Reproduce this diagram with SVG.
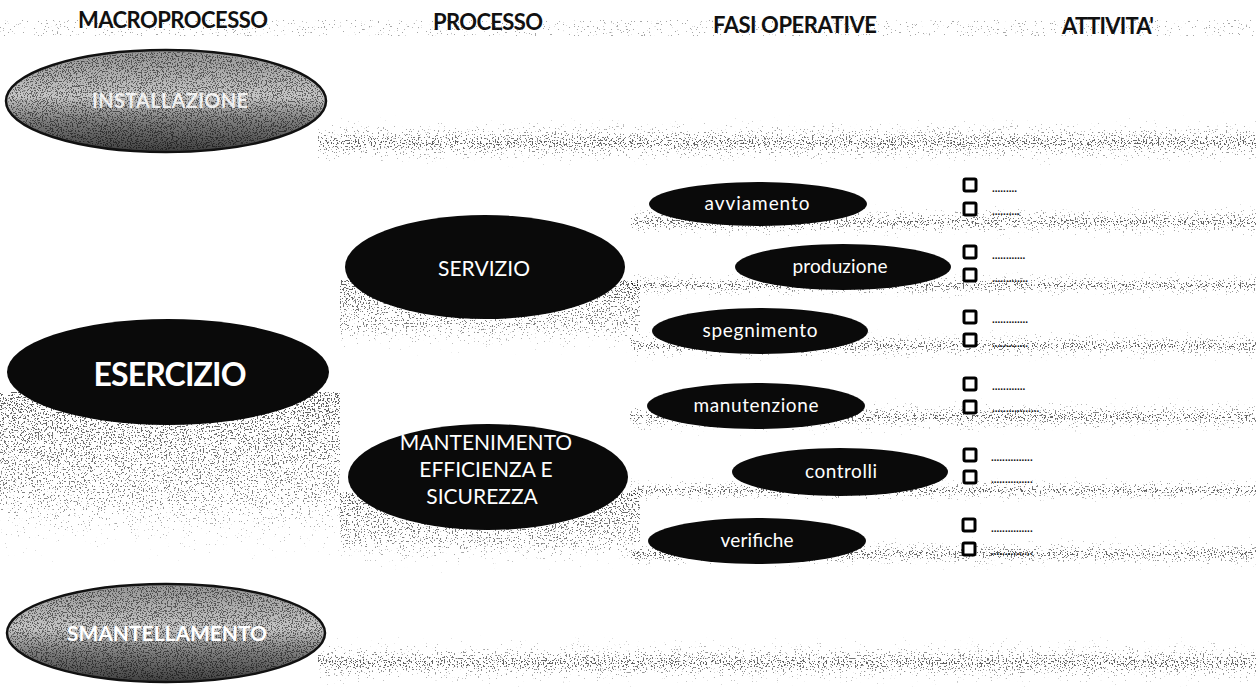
<svg xmlns="http://www.w3.org/2000/svg" width="1256" height="691" viewBox="0 0 1256 691">
<style>
.hdr{font-family:Lato,'Open Sans','Liberation Sans',sans-serif;font-size:22px;font-weight:bold;fill:#111;text-anchor:middle}
.blk{fill:#0a0a0a}
.wt{font-family:Lato,'Open Sans','Liberation Sans',sans-serif;fill:#fff;text-anchor:middle}
.fase{font-size:19px}
.proc{font-size:21px}
.gry{fill:url(#grayG);stroke:#111;stroke-width:2.5}
.cb{fill:#fff;stroke:#000;stroke-width:3}
.dots{font-family:'Liberation Sans',sans-serif;font-size:10px;font-weight:bold;fill:#111}
.band{filter:url(#stip);opacity:0.7}
</style>
<defs>
<filter id="stip" x="0" y="0" width="1" height="1" color-interpolation-filters="sRGB">
<feTurbulence type="fractalNoise" baseFrequency="0.65" numOctaves="2" seed="7" result="n"/>
<feColorMatrix in="n" type="matrix" values="0 0 0 0 0  0 0 0 0 0  0 0 0 0 0  0 0 0 1 0" result="na"/>
<feComposite in="na" in2="SourceAlpha" operator="arithmetic" k1="0" k2="1" k3="0.33" k4="0" result="sum"/>
<feComponentTransfer in="sum" result="th"><feFuncA type="linear" slope="25" intercept="-21.5"/></feComponentTransfer>
<feComposite in="th" in2="SourceAlpha" operator="in"/>
</filter>
<filter id="tex" x="0" y="0" width="1" height="1" color-interpolation-filters="sRGB">
<feTurbulence type="fractalNoise" baseFrequency="0.8" numOctaves="2" seed="3" result="n"/>
<feColorMatrix in="n" type="matrix" values="0 0 0 0 0  0 0 0 0 0  0 0 0 0 0  0 0 0 -14 6.6" result="d"/>
<feComposite in="d" in2="SourceAlpha" operator="in"/>
</filter>
<linearGradient id="bandG" x1="0" y1="0" x2="0" y2="1">
<stop offset="0" stop-color="#000" stop-opacity="0"/>
<stop offset="0.55" stop-color="#000" stop-opacity="0.9"/>
<stop offset="1" stop-color="#000" stop-opacity="0.1"/>
</linearGradient>
<linearGradient id="shadG" x1="0" y1="0" x2="0" y2="1">
<stop offset="0" stop-color="#000" stop-opacity="0.9"/>
<stop offset="0.6" stop-color="#000" stop-opacity="0.7"/>
<stop offset="1" stop-color="#000" stop-opacity="0.05"/>
</linearGradient>
<linearGradient id="grayG" x1="0" y1="0" x2="0" y2="1">
<stop offset="0" stop-color="#949494"/>
<stop offset="0.45" stop-color="#c6c6c6"/>
<stop offset="0.7" stop-color="#7c7c7c"/>
<stop offset="1" stop-color="#404040"/>
</linearGradient>
</defs>
<rect x="0" y="0" width="1256" height="691" fill="#fff"/>
<g id="background">
<rect class="band" x="0" y="20" width="1256" height="16" fill="#000" fill-opacity="0.5"/>
<rect class="band" x="318" y="112" width="938" height="56" fill="url(#bandG)"/>
<rect class="band" x="630" y="200" width="626" height="40" fill="url(#bandG)"/>
<rect class="band" x="630" y="268" width="626" height="32" fill="url(#bandG)"/>
<rect class="band" x="630" y="326" width="626" height="36" fill="url(#bandG)"/>
<rect class="band" x="630" y="394" width="626" height="42" fill="url(#bandG)"/>
<rect class="band" x="630" y="474" width="626" height="30" fill="url(#bandG)"/>
<rect class="band" x="630" y="534" width="626" height="36" fill="url(#bandG)"/>
<rect class="band" x="0" y="392" width="340" height="178" fill="url(#shadG)"/>
<rect class="band" x="340" y="280" width="300" height="78" fill="url(#shadG)"/>
<rect class="band" x="340" y="492" width="300" height="84" fill="url(#shadG)"/>
<rect class="band" x="318" y="632" width="938" height="56" fill="url(#bandG)"/>
</g>
<g id="headers">
<text class="hdr" x="173" y="28" textLength="190">MACROPROCESSO</text>
<text class="hdr" x="488" y="30" textLength="110">PROCESSO</text>
<text class="hdr" x="795" y="33" textLength="164">FASI OPERATIVE</text>
<text class="hdr" x="1108" y="34" textLength="92">ATTIVITA'</text>
</g>
<g id="connectors"/>
<g id="node-installazione">
<ellipse class="gry" cx="166" cy="101" rx="160" ry="51"/>
<ellipse cx="166" cy="101" rx="158" ry="49" fill="#000" filter="url(#tex)" opacity="0.5"/>
<text class="wt" x="170" y="108" font-size="20" font-weight="bold" fill-opacity="0.85" textLength="156">INSTALLAZIONE</text>
</g>
<g id="node-esercizio">
<ellipse class="blk" cx="168" cy="372" rx="161" ry="53"/>
<text class="wt" x="170" y="386" font-size="32" font-weight="bold" textLength="153">ESERCIZIO</text>
</g>
<g id="node-smantellamento">
<ellipse class="gry" cx="166" cy="633" rx="159" ry="49"/>
<ellipse cx="166" cy="633" rx="157" ry="47" fill="#000" filter="url(#tex)" opacity="0.5"/>
<text class="wt" x="167" y="641" font-size="21" font-weight="bold" textLength="200">SMANTELLAMENTO</text>
</g>
<g id="node-servizio">
<ellipse class="blk" cx="485" cy="267" rx="140" ry="52"/>
<text class="wt proc" x="484" y="276" textLength="92">SERVIZIO</text>
</g>
<g id="node-mantenimento">
<ellipse class="blk" cx="488" cy="477" rx="140" ry="53"/>
<text class="wt proc" x="486" y="450">MANTENIMENTO</text>
<text class="wt proc" x="486" y="477">EFFICIENZA E</text>
<text class="wt proc" x="482" y="504">SICUREZZA</text>
</g>
<g id="node-avviamento">
<ellipse class="blk" cx="758" cy="204" rx="109" ry="22"/>
<text class="wt fase" x="757" y="210" textLength="105">avviamento</text>
</g>
<g id="node-produzione">
<ellipse class="blk" cx="843" cy="267" rx="108" ry="23"/>
<text class="wt fase" x="840" y="273" textLength="95">produzione</text>
</g>
<g id="node-spegnimento">
<ellipse class="blk" cx="760" cy="331" rx="108" ry="23"/>
<text class="wt fase" x="760" y="337" textLength="115">spegnimento</text>
</g>
<g id="node-manutenzione">
<ellipse class="blk" cx="756" cy="406" rx="109" ry="23"/>
<text class="wt fase" x="756" y="412" textLength="125">manutenzione</text>
</g>
<g id="node-controlli">
<ellipse class="blk" cx="840" cy="472" rx="108" ry="24"/>
<text class="wt fase" x="841" y="478" textLength="72">controlli</text>
</g>
<g id="node-verifiche">
<ellipse class="blk" cx="757" cy="541" rx="109" ry="23"/>
<text class="wt fase" x="757" y="547" textLength="73">verifiche</text>
</g>
<g id="attivita">
<rect class="cb" x="964" y="179" width="12" height="12" rx="1.5"/>
<rect class="cb" x="964" y="203" width="12" height="12" rx="1.5"/>
<text class="dots" x="992" y="192">.........</text>
<text class="dots" x="992" y="215">..........</text>
<rect class="cb" x="964" y="246" width="12" height="12" rx="1.5"/>
<rect class="cb" x="964" y="269" width="12" height="12" rx="1.5"/>
<text class="dots" x="992" y="259">............</text>
<text class="dots" x="992" y="282">.............</text>
<rect class="cb" x="964" y="311" width="12" height="12" rx="1.5"/>
<rect class="cb" x="964" y="334" width="12" height="12" rx="1.5"/>
<text class="dots" x="992" y="323">.............</text>
<text class="dots" x="992" y="347">.............</text>
<rect class="cb" x="964" y="378" width="12" height="12" rx="1.5"/>
<rect class="cb" x="964" y="401" width="12" height="12" rx="1.5"/>
<text class="dots" x="992" y="390">............</text>
<text class="dots" x="992" y="412">.................</text>
<rect class="cb" x="964" y="449" width="12" height="12" rx="1.5"/>
<rect class="cb" x="964" y="471" width="12" height="12" rx="1.5"/>
<text class="dots" x="991" y="461">...............</text>
<text class="dots" x="991" y="483">...............</text>
<rect class="cb" x="963" y="519" width="12" height="12" rx="1.5"/>
<rect class="cb" x="963" y="543" width="12" height="12" rx="1.5"/>
<text class="dots" x="991" y="532">...............</text>
<text class="dots" x="991" y="555">...............</text>
</g>
</svg>
